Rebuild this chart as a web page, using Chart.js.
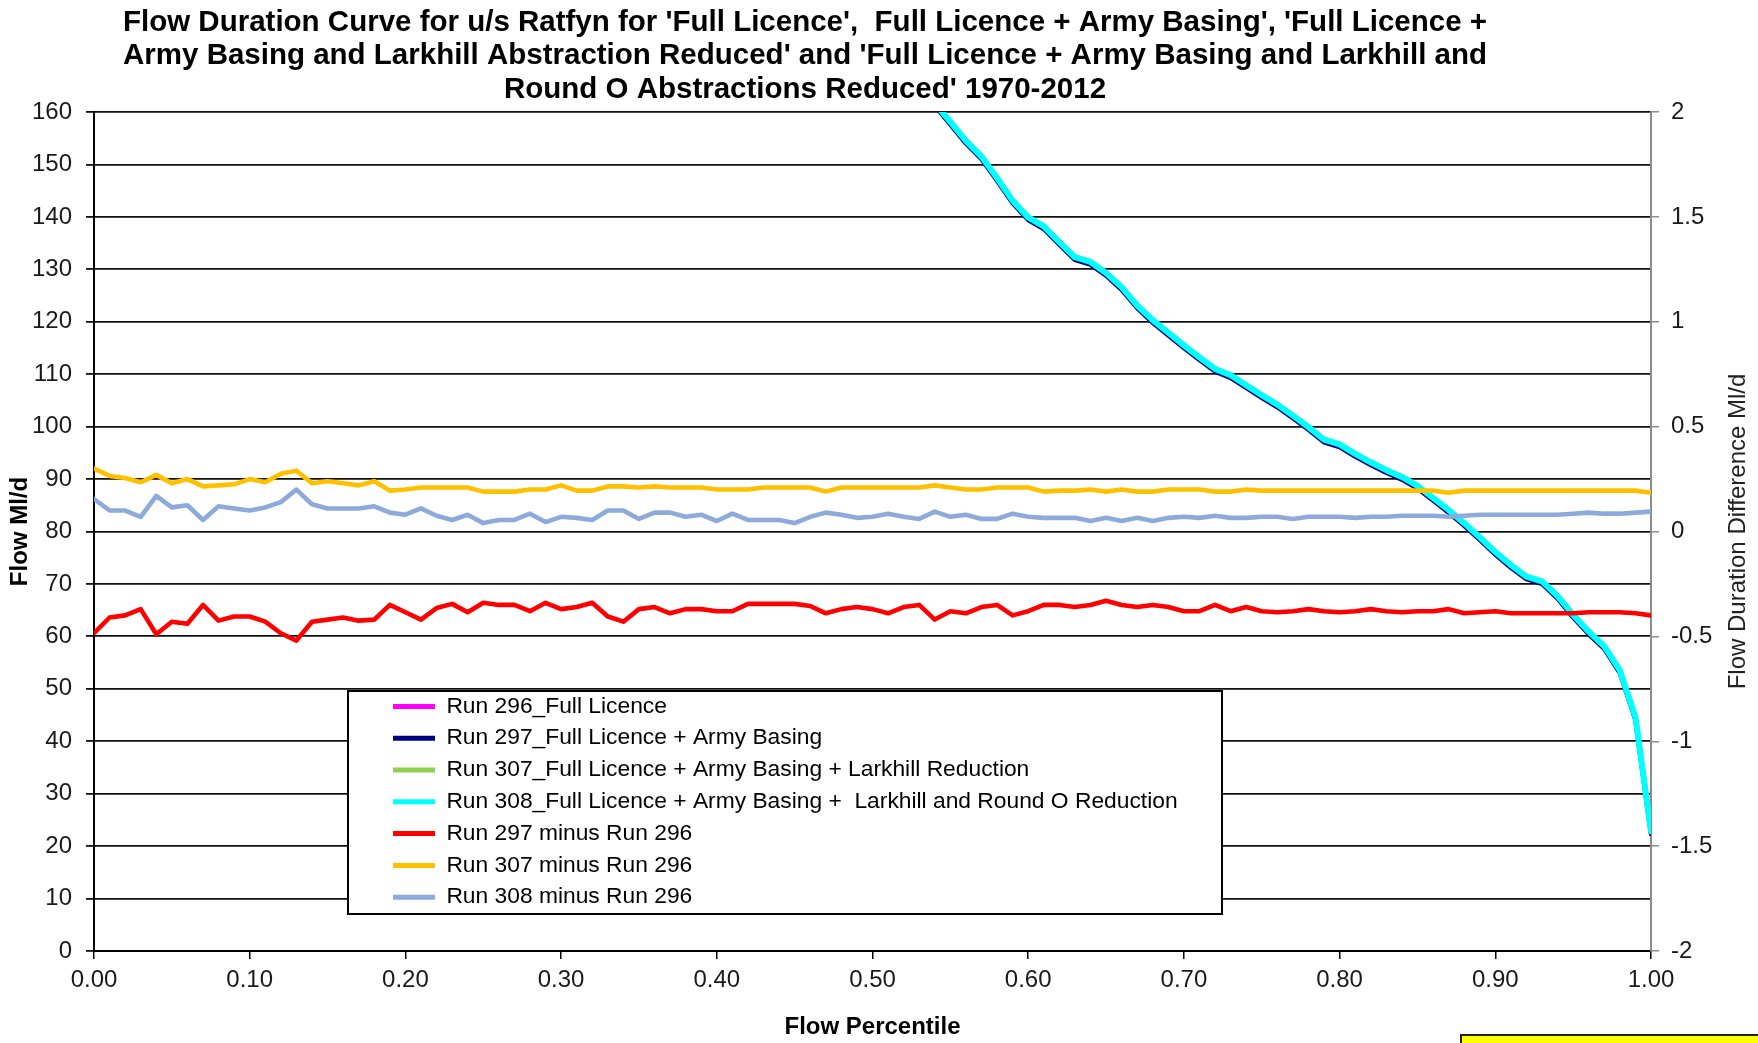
<!DOCTYPE html>
<html>
<head>
<meta charset="utf-8">
<title>Flow Duration Curve u/s Ratfyn</title>
<script src="https://cdn.jsdelivr.net/npm/chart.js@4.4.1/dist/chart.umd.min.js"></script>
<style>
  html, body { margin: 0; padding: 0; background: #ffffff; }
  #wrap { position: relative; width: 1758px; height: 1043px; }
</style>
</head>
<body>
<div id="wrap"><canvas id="fdc"></canvas></div>
<script>
// Flow percentiles (x) shared by the difference series
const percentile = [
  0.00, 0.01, 0.02, 0.03, 0.04, 0.05, 0.06, 0.07, 0.08, 0.09,
  0.10, 0.11, 0.12, 0.13, 0.14, 0.15, 0.16, 0.17, 0.18, 0.19,
  0.20, 0.21, 0.22, 0.23, 0.24, 0.25, 0.26, 0.27, 0.28, 0.29,
  0.30, 0.31, 0.32, 0.33, 0.34, 0.35, 0.36, 0.37, 0.38, 0.39,
  0.40, 0.41, 0.42, 0.43, 0.44, 0.45, 0.46, 0.47, 0.48, 0.49,
  0.50, 0.51, 0.52, 0.53, 0.54, 0.55, 0.56, 0.57, 0.58, 0.59,
  0.60, 0.61, 0.62, 0.63, 0.64, 0.65, 0.66, 0.67, 0.68, 0.69,
  0.70, 0.71, 0.72, 0.73, 0.74, 0.75, 0.76, 0.77, 0.78, 0.79,
  0.80, 0.81, 0.82, 0.83, 0.84, 0.85, 0.86, 0.87, 0.88, 0.89,
  0.90, 0.91, 0.92, 0.93, 0.94, 0.95, 0.96, 0.97, 0.98, 0.99,
  1.00
];

// Differences in Ml/d (right axis)
const diff297 = [
  -0.485, -0.41, -0.40, -0.37, -0.49, -0.43, -0.44, -0.35, -0.425, -0.405,
  -0.405, -0.43, -0.485, -0.52, -0.43, -0.42, -0.41, -0.425, -0.42, -0.35,
  -0.385, -0.42, -0.365, -0.345, -0.385, -0.34, -0.35, -0.35, -0.38, -0.34,
  -0.37, -0.36, -0.34, -0.405, -0.43, -0.37, -0.36, -0.39, -0.37, -0.37,
  -0.38, -0.38, -0.345, -0.345, -0.345, -0.345, -0.355, -0.39, -0.37, -0.36,
  -0.37, -0.39, -0.36, -0.35, -0.42, -0.38, -0.39, -0.36, -0.35, -0.40,
  -0.38, -0.35, -0.35, -0.36, -0.35, -0.33, -0.35, -0.36, -0.35, -0.36,
  -0.38, -0.38, -0.35, -0.38, -0.36, -0.38, -0.385, -0.38, -0.37, -0.38,
  -0.385, -0.38, -0.37, -0.38, -0.385, -0.38, -0.38, -0.37, -0.39, -0.385,
  -0.38, -0.39, -0.39, -0.39, -0.39, -0.39, -0.385, -0.385, -0.385, -0.39,
  -0.40
];
const diff307 = [
  0.30, 0.265, 0.255, 0.235, 0.27, 0.23, 0.25, 0.215, 0.22, 0.225,
  0.25, 0.235, 0.275, 0.29, 0.23, 0.24, 0.23, 0.22, 0.24, 0.195,
  0.20, 0.21, 0.21, 0.21, 0.21, 0.19, 0.19, 0.19, 0.20, 0.20,
  0.22, 0.195, 0.195, 0.215, 0.215, 0.21, 0.215, 0.21, 0.21, 0.21,
  0.20, 0.20, 0.20, 0.21, 0.21, 0.21, 0.21, 0.19, 0.21, 0.21,
  0.21, 0.21, 0.21, 0.21, 0.22, 0.21, 0.20, 0.20, 0.21, 0.21,
  0.21, 0.19, 0.195, 0.195, 0.20, 0.19, 0.20, 0.19, 0.19, 0.20,
  0.20, 0.20, 0.19, 0.19, 0.20, 0.195, 0.195, 0.195, 0.195, 0.195,
  0.195, 0.195, 0.195, 0.195, 0.195, 0.195, 0.195, 0.185, 0.195, 0.195,
  0.195, 0.195, 0.195, 0.195, 0.195, 0.195, 0.195, 0.195, 0.195, 0.195,
  0.185
];
const diff308 = [
  0.155, 0.10, 0.10, 0.07, 0.17, 0.115, 0.125, 0.055, 0.12, 0.11,
  0.10, 0.115, 0.14, 0.20, 0.13, 0.11, 0.11, 0.11, 0.12, 0.09,
  0.08, 0.11, 0.075, 0.055, 0.08, 0.04, 0.055, 0.055, 0.085, 0.045,
  0.07, 0.065, 0.055, 0.10, 0.10, 0.06, 0.09, 0.09, 0.07, 0.08,
  0.05, 0.085, 0.055, 0.055, 0.055, 0.04, 0.07, 0.09, 0.08, 0.065,
  0.07, 0.085, 0.07, 0.06, 0.095, 0.07, 0.08, 0.06, 0.06, 0.085,
  0.07, 0.065, 0.065, 0.065, 0.05, 0.065, 0.05, 0.065, 0.05, 0.065,
  0.07, 0.065, 0.075, 0.065, 0.065, 0.07, 0.07, 0.06, 0.07, 0.07,
  0.07, 0.065, 0.07, 0.07, 0.075, 0.075, 0.075, 0.07, 0.075, 0.08,
  0.08, 0.08, 0.08, 0.08, 0.08, 0.085, 0.09, 0.085, 0.085, 0.09,
  0.095
];

// Flow duration curves in Ml/d (left axis), percentiles 0.54 to 1.00
const flowPercentile = [
  0.54, 0.55, 0.56, 0.57, 0.58, 0.59, 0.60, 0.61, 0.62, 0.63,
  0.64, 0.65, 0.66, 0.67, 0.68, 0.69, 0.70, 0.71, 0.72, 0.73,
  0.74, 0.75, 0.76, 0.77, 0.78, 0.79, 0.80, 0.81, 0.82, 0.83,
  0.84, 0.85, 0.86, 0.87, 0.88, 0.89, 0.90, 0.91, 0.92, 0.93,
  0.94, 0.95, 0.96, 0.97, 0.98, 0.99, 1.00
];
const run296 = [
  161.6, 158.0, 154.4, 151.4, 147.3, 143.0, 139.8, 138.1, 135.1, 132.2,
  131.3, 129.2, 126.5, 123.0, 120.2, 117.8, 115.4, 113.1, 110.9, 109.7,
  107.8, 105.9, 104.1, 102.0, 99.8, 97.4, 96.5, 94.7, 93.1, 91.6,
  90.3, 88.6, 86.3, 84.0, 81.5, 78.8, 76.0, 73.5, 71.3, 70.4,
  67.6, 64.0, 60.8, 58.0, 53.4, 44.5, 22.7
];
const run297 = [
  161.2, 157.6, 154.0, 151.0, 146.9, 142.6, 139.4, 137.7, 134.7, 131.8,
  130.9, 128.8, 126.1, 122.6, 119.8, 117.4, 115.0, 112.7, 110.5, 109.3,
  107.4, 105.5, 103.7, 101.6, 99.4, 97.0, 96.1, 94.3, 92.7, 91.2,
  89.9, 88.2, 85.9, 83.6, 81.1, 78.4, 75.6, 73.1, 70.9, 70.0,
  67.2, 63.6, 60.4, 57.6, 53.0, 44.1, 22.3
];
const run307 = [
  161.8, 158.2, 154.6, 151.6, 147.5, 143.2, 140.0, 138.3, 135.3, 132.4,
  131.5, 129.4, 126.7, 123.2, 120.4, 118.0, 115.6, 113.3, 111.1, 109.9,
  108.0, 106.1, 104.3, 102.2, 100.0, 97.6, 96.7, 94.9, 93.3, 91.8,
  90.5, 88.8, 86.5, 84.2, 81.7, 79.0, 76.2, 73.7, 71.5, 70.6,
  67.8, 64.2, 61.0, 58.2, 53.6, 44.7, 22.9
];
const run308 = [
  161.7, 158.1, 154.5, 151.5, 147.4, 143.1, 139.9, 138.2, 135.2, 132.3,
  131.4, 129.3, 126.6, 123.1, 120.3, 117.9, 115.5, 113.2, 111.0, 109.8,
  107.9, 106.0, 104.2, 102.1, 99.9, 97.5, 96.6, 94.8, 93.2, 91.7,
  90.4, 88.7, 86.4, 84.1, 81.6, 78.9, 76.1, 73.6, 71.4, 70.5,
  67.7, 64.1, 60.9, 58.1, 53.5, 44.6, 22.8
];

// Axis ticks and their labels
const percentileTicks = [0, 0.1, 0.2, 0.3, 0.4, 0.5, 0.6, 0.7, 0.8, 0.9, 1.0];
const percentileLabels = ['0.00', '0.10', '0.20', '0.30', '0.40', '0.50', '0.60', '0.70', '0.80', '0.90', '1.00'];
const flowTicks = [0, 10, 20, 30, 40, 50, 60, 70, 80, 90, 100, 110, 120, 130, 140, 150, 160];
const diffTicks = [-2, -1.5, -1, -0.5, 0, 0.5, 1, 1.5, 2];
const diffLabels = ['-2', '-1.5', '-1', '-0.5', '0', '0.5', '1', '1.5', '2'];

const titleLines = [
  "Flow Duration Curve for u/s Ratfyn for 'Full Licence',  Full Licence + Army Basing', 'Full Licence +",
  "Army Basing and Larkhill Abstraction Reduced' and 'Full Licence + Army Basing and Larkhill and",
  "Round O Abstractions Reduced' 1970-2012"
];

const FONT = "'Liberation Sans', Arial, Helvetica, sans-serif";

function points(xs, ys) {
  return xs.map((x, i) => ({ x: x, y: ys[i] }));
}

// Centre the title block over a chosen x position
const titleCentre = {
  id: 'titleCentre',
  afterLayout(chart, args, o) {
    const t = chart.titleBlock;
    if (t) { t.left = o.centre - o.half; t.right = o.centre + o.half; }
  }
};

// Place the legend inside the plot and give it a white framed box
const legendFrame = {
  id: 'legendFrame',
  afterLayout(chart, args, o) {
    const lg = chart.legend;
    if (!lg) return;
    lg.left = o.itemsLeft;
    lg.top = o.itemsTop;
    lg.right = o.box.right;
    lg.bottom = o.box.bottom + 60;
    lg.width = lg.right - lg.left;
    lg.height = lg.bottom - lg.top;
    if (!lg._framed) {
      const drawItems = lg.draw.bind(lg);
      lg.draw = function () {
        const ctx = chart.ctx;
        const b = o.box;
        ctx.save();
        ctx.fillStyle = '#ffffff';
        ctx.fillRect(b.left, b.top, b.right - b.left, b.bottom - b.top);
        ctx.strokeStyle = o.borderColor;
        ctx.lineWidth = o.borderWidth;
        ctx.strokeRect(b.left, b.top, b.right - b.left, b.bottom - b.top);
        ctx.restore();
        drawItems();
      };
      lg._framed = true;
    }
  }
};

// Right-hand axis title, read bottom-to-top
const rightAxisTitle = {
  id: 'rightAxisTitle',
  afterDraw(chart, args, o) {
    const s = chart.scales.y2;
    const ctx = chart.ctx;
    ctx.save();
    ctx.translate(s.right - o.inset, (chart.chartArea.top + chart.chartArea.bottom) / 2);
    ctx.rotate(-Math.PI / 2);
    ctx.font = o.font;
    ctx.fillStyle = o.color;
    ctx.textAlign = 'center';
    ctx.textBaseline = 'middle';
    ctx.fillText(o.text, 0, 0);
    ctx.restore();
  }
};

// Yellow note box in the bottom-right corner
const noteBox = {
  id: 'noteBox',
  afterDraw(chart, args, o) {
    const ctx = chart.ctx;
    ctx.save();
    ctx.fillStyle = o.fill;
    ctx.fillRect(o.x, o.y, chart.width - o.x + 10, chart.height - o.y + 10);
    ctx.strokeStyle = o.stroke;
    ctx.lineWidth = o.lineWidth;
    ctx.strokeRect(o.x, o.y, chart.width - o.x + 10, chart.height - o.y + 10);
    ctx.restore();
  }
};

const flowLine = { pointRadius: 0, borderWidth: 5, tension: 0, fill: false, yAxisID: 'y',
  borderJoinStyle: 'round', borderCapStyle: 'round' };
const diffLine = { pointRadius: 0, borderWidth: 4.6, tension: 0, fill: false, yAxisID: 'y2',
  borderJoinStyle: 'round', borderCapStyle: 'round' };

new Chart(document.getElementById('fdc'), {
  type: 'line',
  data: {
    datasets: [
      Object.assign({ label: 'Run 296_Full Licence', data: points(flowPercentile, run296),
        borderColor: '#ff00ff', backgroundColor: '#ff00ff', order: 4 }, flowLine),
      Object.assign({ label: 'Run 297_Full Licence + Army Basing', data: points(flowPercentile, run297),
        borderColor: '#000080', backgroundColor: '#000080', order: 3 }, flowLine, { borderWidth: 4.5 }),
      Object.assign({ label: 'Run 307_Full Licence + Army Basing + Larkhill Reduction', data: points(flowPercentile, run307),
        borderColor: '#92d050', backgroundColor: '#92d050', order: 2 }, flowLine),
      Object.assign({ label: 'Run 308_Full Licence + Army Basing +  Larkhill and Round O Reduction', data: points(flowPercentile, run308),
        borderColor: '#00ffff', backgroundColor: '#00ffff', order: 1 }, flowLine, { borderWidth: 6 }),
      Object.assign({ label: 'Run 297 minus Run 296', data: points(percentile, diff297),
        borderColor: '#ff0000', backgroundColor: '#ff0000', order: 0 }, diffLine),
      Object.assign({ label: 'Run 307 minus Run 296', data: points(percentile, diff307),
        borderColor: '#ffc000', backgroundColor: '#ffc000', order: 0 }, diffLine),
      Object.assign({ label: 'Run 308 minus Run 296', data: points(percentile, diff308),
        borderColor: '#8eaadb', backgroundColor: '#8eaadb', order: 0 }, diffLine)
    ]
  },
  options: {
    responsive: true,
    maintainAspectRatio: false,
    animation: false,
    devicePixelRatio: 1,
    layout: { padding: 0 },
    scales: {
      x: {
        type: 'linear',
        min: 0,
        max: 1,
        afterBuildTicks: s => { s.ticks = percentileTicks.map(v => ({ value: v })); },
        afterFit: s => { s.height = 92; },
        ticks: {
          callback: (v, i) => percentileLabels[i],
          font: { family: FONT, size: 24 },
          color: '#1a1a1a',
          padding: 7,
          maxRotation: 0,
          autoSkip: false
        },
        grid: { drawOnChartArea: false, drawTicks: true, tickLength: 8, color: '#000000', lineWidth: 1.5 },
        border: { color: '#000000', width: 2 },
        title: {
          display: true,
          text: 'Flow Percentile',
          font: { family: FONT, size: 24, weight: 'bold' },
          color: '#000000',
          padding: { top: 0, bottom: 1 }
        }
      },
      y: {
        type: 'linear',
        position: 'left',
        min: 0,
        max: 160,
        afterBuildTicks: s => { s.ticks = flowTicks.map(v => ({ value: v })); },
        afterFit: s => { s.width = 94; },
        ticks: { font: { family: FONT, size: 24 }, color: '#1a1a1a', padding: 14 },
        grid: { color: '#111111', lineWidth: 1.8, tickLength: 8 },
        border: { color: '#000000', width: 2 },
        title: {
          display: true,
          text: 'Flow Ml/d',
          font: { family: FONT, size: 24, weight: 'bold' },
          color: '#000000',
          padding: { top: 6, bottom: 0 }
        }
      },
      y2: {
        type: 'linear',
        position: 'right',
        min: -2,
        max: 2,
        afterBuildTicks: s => { s.ticks = diffTicks.map(v => ({ value: v })); },
        afterFit: s => { s.width = 107; },
        ticks: {
          callback: (v, i) => diffLabels[i],
          font: { family: FONT, size: 24 },
          color: '#1a1a1a',
          padding: 12
        },
        grid: { drawOnChartArea: false, drawTicks: true, tickLength: 8, color: '#8c8c8c', lineWidth: 1.5 },
        border: { color: '#8c8c8c', width: 2 }
      }
    },
    plugins: {
      title: {
        display: true,
        text: titleLines,
        font: { family: FONT, size: 29.5, weight: 'bold', lineHeight: 1.139 },
        color: '#000000',
        padding: { top: 5.6, bottom: 5.6 }
      },
      subtitle: { display: false },
      tooltip: { enabled: false },
      legend: {
        position: 'chartArea',
        align: 'start',
        labels: {
          font: { family: FONT, size: 22.8 },
          color: '#111111',
          boxWidth: 42,
          boxHeight: 5,
          padding: 9,
          generateLabels: chart => chart.data.datasets.map((d, i) => ({
            text: d.label,
            fillStyle: d.borderColor,
            strokeStyle: d.borderColor,
            lineWidth: 0,
            hidden: false,
            datasetIndex: i
          }))
        }
      },
      titleCentre: { centre: 805, half: 800 },
      legendFrame: {
        itemsLeft: 384,
        itemsTop: 686,
        box: { left: 348, top: 691, right: 1222, bottom: 914 },
        borderColor: '#000000',
        borderWidth: 2
      },
      rightAxisTitle: {
        text: 'Flow Duration Difference Ml/d',
        font: "24px " + FONT,
        color: '#222222',
        inset: 20
      },
      noteBox: { x: 1461, y: 1035, fill: '#ffff00', stroke: '#222222', lineWidth: 2 }
    }
  },
  plugins: [titleCentre, legendFrame, rightAxisTitle, noteBox]
});
</script>
</body>
</html>
